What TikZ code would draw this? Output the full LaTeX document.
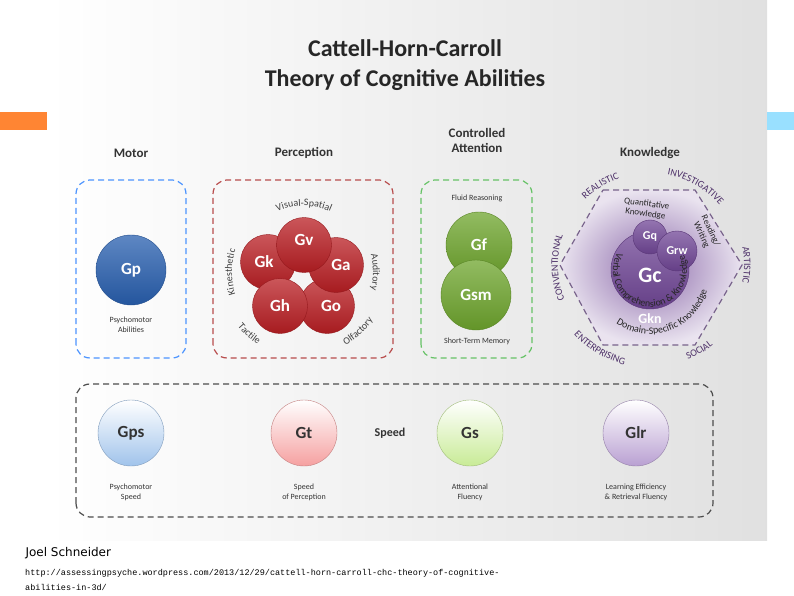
\documentclass[tikz,border=0pt]{standalone}
\usepackage{fontspec}
\setmainfont{Carlito}
\newfontfamily\footfont{DejaVu Sans}
\newfontfamily\urlfont{Liberation Mono}
\usetikzlibrary{decorations.text,shadings}
\definecolor{kpurple}{RGB}{112,70,150}
\definecolor{gblue}{RGB}{40,95,175}
\definecolor{gred}{RGB}{185,30,35}
\definecolor{ggreen}{RGB}{110,165,45}
\definecolor{lblue}{RGB}{160,195,235}
\definecolor{lred}{RGB}{245,160,160}
\definecolor{lgreen}{RGB}{200,235,150}
\definecolor{lpurple}{RGB}{185,160,210}
\newcommand\amper{\&}
\tikzset{
 grp/.style={draw,line width=1.2pt,rounded corners=14pt,dash pattern=on 6pt off 4pt},
 cball/.style n args={2}{circle,minimum size=#1,inner sep=0pt,text=white,font=\fontsize{17}{17}\selectfont\bfseries,top color=#2!75!white,bottom color=#2!90!black,draw=#2!80!black,line width=0.4pt},
 lite/.style={circle,minimum size=66pt,inner sep=0pt,text=black!80,font=\fontsize{17}{17}\selectfont\bfseries,top color=white,bottom color=#1,draw=#1!80!black,line width=0.4pt},
 capt/.style={font=\fontsize{8}{10}\selectfont,text=black!80,align=center},
 head/.style={font=\fontsize{13}{15}\selectfont\bfseries,text=black!80,align=center},
 wlab/.style={text=white,font=\fontsize{17}{17}\selectfont\bfseries},
}
\begin{document}
\begin{tikzpicture}[x=1pt,y=1pt]
\useasboundingbox (0,0) rectangle (794,595);
\fill[white] (0,0) rectangle (794,595);
\shade[left color=white,right color=black!12] (47,55) rectangle (767,595);
\fill[orange!80!red!80] (0,465) rectangle (47,483);
\fill[blue!30!cyan!40] (767,465) rectangle (794,483);
\node[font=\fontsize{24}{30}\selectfont\bfseries,text=black!85,align=center] (title) at (405,530) {Cattell-Horn-Carroll\\Theory of Cognitive Abilities};
% headings
\node[head] (hm) at (131,442) {Motor};
\node[head] (hp) at (304,442) {Perception};
\node[head] (hc) at (477,455) {Controlled\\Attention};
\node[head] (hk) at (650,442) {Knowledge};
% Motor
\draw[grp,blue!60!cyan!70] (76,237) rectangle (186,415);
\node[cball={70pt}{gblue}] (gp) at (131,325) {Gp};
\node[capt] (gpl) at (131,270) {Psychomotor\\Abilities};
% Perception
\draw[grp,red!60!black!70] (213,237) rectangle (393,415);
\node[cball={55pt}{gred}] (go) at (327,289) {};
\node[cball={55pt}{gred}] (ga) at (336,330) {};
\node[cball={55pt}{gred}] (gk) at (268,333) {};
\node[cball={55pt}{gred}] (gh) at (280,289) {};
\node[cball={55pt}{gred}] (gv) at (304,350) {};
\node[wlab] (lgo) at (331,289) {Go};
\node[wlab] (lga) at (341,330) {Ga};
\node[wlab] (lgk) at (264,333) {Gk};
\node[wlab] (lgh) at (280,289) {Gh};
\node[wlab] (lgv) at (304,355) {Gv};
\tikzset{ptext/.style={decorate,decoration={text along path,text align=center,text color=black!75,text={#1}}}}
\begin{scope}[font=\fontsize{8}{8}\selectfont]
\path[ptext=Visual-Spatial] (304,323) ++(125:66) arc[start angle=125,end angle=55,radius=66];
\path[ptext=Kinesthetic] (304,323) ++(215:72) arc[start angle=215,end angle=145,radius=72];
\path[ptext=Auditory] (304,323) ++(35:69) arc[start angle=35,end angle=-35,radius=69];
\path[ptext=Tactile] (304,323) ++(212:86) arc[start angle=212,end angle=245,radius=86];
\path[ptext=Olfactory] (304,323) ++(290:84) arc[start angle=290,end angle=335,radius=84];
\end{scope}
% Controlled attention
\draw[grp,green!60!black!60] (421,237) rectangle (532,415);
\node[cball={66pt}{ggreen}] (gf) at (479,350) {Gf};
\node[cball={70pt}{ggreen}] (gsm) at (476,300) {Gsm};
\node[capt] (gfl) at (477,397) {Fluid Reasoning};
\node[capt] (gsml) at (477,254) {Short-Term Memory};
% Knowledge
\coordinate (kc) at (650,330);
\shade[inner color=kpurple!80,outer color=kpurple!15] (603,405) -- (695,405) -- (742,330) -- (695,250) -- (603,250) -- (560,330) -- cycle;
\draw[line width=1.2pt,kpurple!50!gray,dash pattern=on 6pt off 4pt] (603,405) -- (695,405) -- (742,330) -- (695,250) -- (603,250) -- (560,330) -- cycle;
\node[cball={78pt}{kpurple}] (gc) at (650,325) {};
\node[cball={34pt}{kpurple},font=\fontsize{12}{12}\selectfont\bfseries] (gq) at (650,358) {Gq};
\node[cball={40pt}{kpurple},font=\fontsize{12}{12}\selectfont\bfseries] (grw) at (677,344) {Grw};
\node[text=white,font=\fontsize{22}{22}\selectfont\bfseries] (gcl) at (650,320) {Gc};
\node[text=white,font=\fontsize{14}{14}\selectfont\bfseries] (gkn) at (650,276) {Gkn};
\node[font=\fontsize{9}{10}\selectfont,align=center,rotate=-8,text=black!85] (qk) at (646,386) {Quantitative\\Knowledge};
\node[font=\fontsize{9}{10}\selectfont,align=center,rotate=-65,text=black!85] (rw) at (706,362) {Reading/\\Writing};
\begin{scope}[font=\fontsize{7}{8}\selectfont]
\path[decorate,decoration={text along path,text align=center,text color=black!85,text={Verbal Comprehension {\amper} Knowledge}}] (650,325) ++(155:37) arc[start angle=155,end angle=380,radius=37];
\end{scope}
\begin{scope}[font=\fontsize{11}{11}\selectfont]
\path[decorate,decoration={text along path,text align=center,text color=black!85,text={Domain-Specific Knowledge}}] (650,320) ++(195:59) arc[start angle=195,end angle=385,radius=59];
\end{scope}
\tikzset{rtext/.style={decorate,decoration={text along path,text align=center,text color=kpurple!70!black,text={#1}}}}
\begin{scope}[font=\fontsize{6.5}{7}\selectfont\bfseries]
\path[rtext=REALISTIC] (kc) ++(140:92) arc[start angle=140,end angle=104,radius=92];
\path[rtext=INVESTIGATIVE] (kc) ++(82:92) arc[start angle=82,end angle=38,radius=92];
\path[rtext=ARTISTIC] (kc) ++(15:94) arc[start angle=15,end angle=-15,radius=94];
\path[rtext=SOCIAL] (kc) ++(288:102) arc[start angle=288,end angle=312,radius=102];
\path[rtext=ENTERPRISING] (kc) ++(218:103) arc[start angle=218,end angle=260,radius=103];
\path[rtext=CONVENTIONAL] (kc) ++(203:92) arc[start angle=203,end angle=160,radius=92];
\end{scope}
% Speed
\draw[grp,black!70] (76,78) rectangle (713,211);
\node[lite=lblue] (gps) at (131,162) {Gps};
\node[lite=lred] (gt) at (304,162) {Gt};
\node[lite=lgreen] (gs) at (470,162) {Gs};
\node[lite=lpurple] (glr) at (636,162) {Glr};
\node[font=\fontsize{12}{14}\selectfont\bfseries,text=black!80] (sp) at (390,162) {Speed};
\node[capt] (gpsl) at (131,103) {Psychomotor\\Speed};
\node[capt] (gtl) at (304,103) {Speed\\of Perception};
\node[capt] (gsl) at (470,103) {Attentional\\Fluency};
\node[capt] (glrl) at (636,103) {Learning Efficiency\\\& Retrieval Fluency};
% footer
\node[anchor=west,font=\footfont\fontsize{12}{14}\selectfont] (auth) at (22,42) {Joel Schneider};
\node[anchor=north west,font=\urlfont\fontsize{8.5}{15}\selectfont,align=left,inner sep=0pt] (url) at (25,26) {http://assessingpsyche.wordpress.com/2013/12/29/cattell-horn-carroll-chc-theory-of-cognitive-\\abilities-in-3d/};
\end{tikzpicture}
\end{document}
